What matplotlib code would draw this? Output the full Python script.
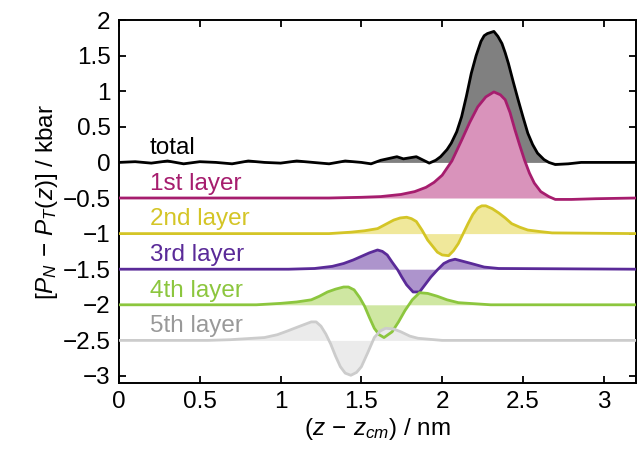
import matplotlib
matplotlib.use("Agg")
import matplotlib.pyplot as plt

plt.rcParams['font.family'] = ['Liberation Sans', 'DejaVu Sans']
plt.rcParams['mathtext.fontset'] = 'custom'
plt.rcParams['mathtext.rm'] = 'Liberation Sans'
plt.rcParams['mathtext.it'] = 'Liberation Sans:italic'
plt.rcParams['axes.unicode_minus'] = True

# ---- data ----
total_x = [0.0, 0.1, 0.2, 0.3, 0.4, 0.5, 0.6, 0.7, 0.8, 0.9, 1.0, 1.1, 1.2, 1.3, 1.4,
           1.5, 1.56, 1.62, 1.72, 1.76, 1.84, 1.92, 1.96, 1.99, 2.03, 2.056, 2.09,
           2.12, 2.15, 2.18, 2.21, 2.24, 2.26, 2.28, 2.32, 2.345, 2.37, 2.39, 2.41,
           2.44, 2.47, 2.50, 2.53, 2.56, 2.59, 2.63, 2.66, 2.70, 2.78, 2.86, 3.0, 3.2]
total_y = [0.0, 0.01, -0.01, 0.02, -0.02, 0.01, 0.0, -0.02, 0.02, 0.0, -0.01, 0.02,
           0.0, -0.02, 0.02, 0.0, -0.02, 0.03, 0.08, 0.05, 0.08, -0.01, 0.03, 0.08,
           0.18, 0.27, 0.43, 0.64, 0.93, 1.25, 1.50, 1.70, 1.78, 1.81, 1.84, 1.77,
           1.67, 1.54, 1.39, 1.13, 0.88, 0.64, 0.41, 0.25, 0.13, 0.04, 0.0, -0.03,
           -0.02, 0.0, 0.0, 0.0]

l1_x = [0.0, 1.30, 1.50, 1.62, 1.745, 1.83, 1.90, 1.95, 2.00, 2.06, 2.12, 2.17, 2.22,
        2.27, 2.32, 2.36, 2.39, 2.42, 2.45, 2.48, 2.51, 2.54, 2.57, 2.61, 2.66, 2.70,
        2.80, 2.95, 3.2]
l1_y = [0.0, 0.0, 0.01, 0.02, 0.05, 0.09, 0.15, 0.22, 0.32, 0.52, 0.81, 1.06, 1.28,
        1.42, 1.49, 1.45, 1.38, 1.20, 0.96, 0.74, 0.53, 0.35, 0.21, 0.09, 0.02, -0.02,
        -0.02, -0.01, 0.0]

l2_x = [0.0, 1.30, 1.435, 1.52, 1.60, 1.65, 1.70, 1.74, 1.78, 1.81, 1.84, 1.875, 1.91,
        1.97, 2.00, 2.04, 2.07, 2.10, 2.13, 2.16, 2.19, 2.22, 2.245, 2.27, 2.31, 2.35,
        2.39, 2.43, 2.48, 2.53, 2.60, 2.68, 3.2]
l2_y = [0.0, 0.0, 0.02, 0.04, 0.07, 0.13, 0.19, 0.22, 0.23, 0.21, 0.17, 0.05, -0.09,
        -0.26, -0.30, -0.31, -0.24, -0.14, 0.0, 0.14, 0.27, 0.36, 0.39, 0.39, 0.35,
        0.29, 0.22, 0.14, 0.09, 0.05, 0.03, 0.01, 0.0]

l3_x = [0.0, 1.05, 1.21, 1.32, 1.39, 1.45, 1.50, 1.55, 1.60, 1.63, 1.66, 1.69, 1.725,
        1.75, 1.78, 1.82, 1.86, 1.90, 1.93, 1.97, 2.01, 2.045, 2.08, 2.13, 2.18, 2.26,
        2.35, 3.2]
l3_y = [0.0, 0.0, 0.01, 0.04, 0.08, 0.13, 0.18, 0.23, 0.27, 0.25, 0.20, 0.10, -0.01,
        -0.11, -0.22, -0.32, -0.32, -0.20, -0.11, -0.01, 0.08, 0.12, 0.14, 0.11, 0.08,
        0.03, 0.01, 0.0]

l4_x = [0.0, 0.85, 1.0, 1.10, 1.19, 1.24, 1.29, 1.34, 1.39, 1.42, 1.455, 1.49, 1.52,
        1.55, 1.58, 1.61, 1.64, 1.69, 1.73, 1.77, 1.815, 1.86, 1.91, 1.97, 2.03, 2.10,
        2.30, 3.2]
l4_y = [0.0, 0.0, 0.02, 0.04, 0.07, 0.12, 0.18, 0.22, 0.25, 0.25, 0.21, 0.10, -0.02,
        -0.18, -0.33, -0.42, -0.46, -0.38, -0.24, -0.08, 0.07, 0.17, 0.16, 0.12, 0.07,
        0.03, 0.0, 0.0]

l5_x = [0.0, 0.55, 0.69, 0.90, 0.98, 1.04, 1.12, 1.19, 1.22, 1.25, 1.28, 1.31, 1.34,
        1.37, 1.40, 1.435, 1.47, 1.50, 1.54, 1.58, 1.615, 1.65, 1.70, 1.745, 1.80, 1.85,
        2.0, 3.2]
l5_y = [0.0, 0.0, 0.01, 0.04, 0.08, 0.13, 0.20, 0.26, 0.26, 0.20, 0.09, -0.05, -0.22,
        -0.37, -0.46, -0.49, -0.45, -0.37, -0.17, 0.04, 0.13, 0.17, 0.16, 0.12, 0.06,
        0.03, 0.0, 0.0]

names = ['total', '1st layer', '2nd layer', '3rd layer', '4th layer', '5th layer']
offsets = [0.0, -0.5, -1.0, -1.5, -2.0, -2.5]
line_colors = ['#000000', '#a61d6e', '#d4c526', '#5a2a98', '#8cc63e', '#cccccc']
fill_colors = ['#808080', '#d993bb', '#f0e89b', '#ad94cc', '#cfe7a2', '#ebebeb']
text_colors = ['#000000', '#a61d6e', '#d4c526', '#5a2a98', '#8cc63e', '#999999']
xs = [total_x, l1_x, l2_x, l3_x, l4_x, l5_x]
ys = [total_y, l1_y, l2_y, l3_y, l4_y, l5_y]

fig = plt.figure(figsize=(6.38, 4.55), dpi=100)
ax = fig.add_axes([0.1865, 0.158, 0.8105, 0.798])

for i in range(len(names)):
    off = offsets[i]
    y = [v + off for v in ys[i]]
    ax.fill_between(xs[i], y, off, color=fill_colors[i], lw=0, zorder=2 + i)
for i in range(len(names)):
    off = offsets[i]
    y = [v + off for v in ys[i]]
    ax.plot(xs[i], y, color=line_colors[i], lw=2.0, zorder=10 + i,
            solid_joinstyle='round', solid_capstyle='butt')
    ax.text(0.19, off + 0.2, names[i], color=text_colors[i], fontsize=17.5,
            va='center', ha='left', zorder=20)

ax.set_xlim(0, 3.2)
ax.set_ylim(-3.1, 2.0)
ax.set_xticks([0, 0.5, 1, 1.5, 2, 2.5, 3])
ax.set_xticklabels(['0', '0.5', '1', '1.5', '2', '2.5', '3'])
ax.set_yticks([2, 1.5, 1, 0.5, 0, -0.5, -1, -1.5, -2, -2.5, -3])
ax.set_yticklabels(['2', '1.5', '1', '0.5', '0', '\u22120.5', '\u22121', '\u22121.5',
                    '\u22122', '\u22122.5', '\u22123'])
ax.tick_params(direction='in', top=True, right=True, length=5, width=1.3,
               labelsize=17.5, pad=6)
for s in ax.spines.values():
    s.set_linewidth(1.4)

ax.set_xlabel(r'$(z \,-\, z_{cm})$ / nm', fontsize=17.5, labelpad=2)
ax.set_ylabel(r'$[P_N \,-\, P_T(z)]$ / kbar', fontsize=17.5, labelpad=2)

fig.savefig('out.png', dpi=100)
